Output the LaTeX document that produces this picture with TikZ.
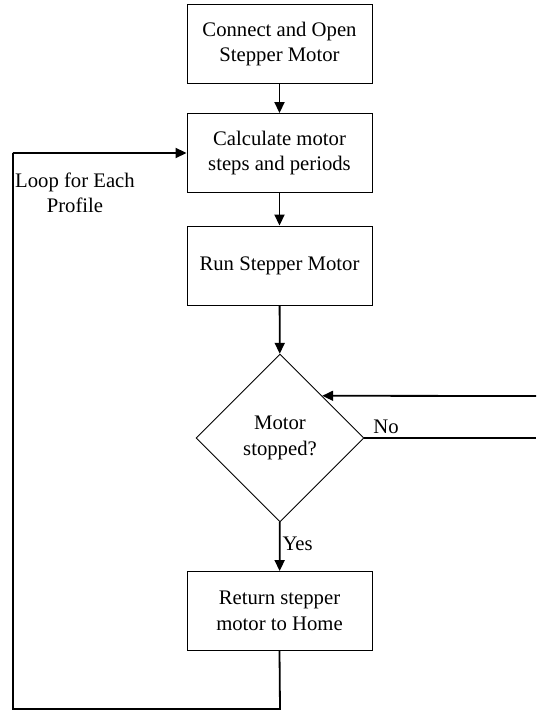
\documentclass[tikz,border=0pt]{standalone}
\usepackage{fontspec}
\setmainfont{Liberation Serif}
\usetikzlibrary{shapes.geometric,arrows.meta}
\begin{document}
\begin{tikzpicture}[x=1pt,y=-1pt,
  txt/.style={font=\fontsize{20.7}{25.5}\selectfont,align=center},
  procbox/.style={txt,draw,line width=0.9pt,minimum width=185,minimum height=79,inner sep=0},
  decision/.style={txt,draw,diamond,line width=0.9pt,minimum width=168,minimum height=168,inner sep=0},
  flow/.style={line width=1.8pt,-{Triangle[length=11pt,width=10pt]}},
  wire/.style={line width=1.8pt}]
  \useasboundingbox (0,0) rectangle (536,711);

  % process steps
  \node[procbox] (open) at (279.5,44) {Connect and Open\\Stepper Motor};
  \node[procbox] (calc) at (279.5,153) {Calculate motor\\steps and periods};
  \node[procbox] (run)  at (279.5,265.5) {Run Stepper Motor};
  \node[decision] (stop) at (280,438) {Motor\\stopped?};
  \node[procbox] (home) at (279.5,611) {Return stepper\\motor to Home};

  % main flow
  \draw[flow] (open) -- (calc);
  \draw[flow] (calc) -- (run);
  \draw[flow] (run) -- (stop);
  \draw[flow] (stop) -- node[txt,right,inner sep=2pt,pos=0.45] (yes) {Yes} (home);

  % profile loop back to the calculation step
  \coordinate (lb) at (280,709);
  \coordinate (ll) at (13,709);
  \coordinate (lt) at (13,153);
  \draw[wire,line join=miter] (home.south) -- (lb) -- (ll) -- (lt);
  \draw[flow] (lt) -- (calc.west);
  \node[txt] (looplbl) at (75,193) {Loop for Each\\Profile};

  % waiting branch at the right
  \coordinate (rin) at (536,396);
  \coordinate (rout) at (536,438);
  \draw[flow] (rin) -- (stop.north east);
  \draw[wire] (stop.east) -- (rout);
  \node[txt,inner sep=0] (no) at (386,427) {No};
\end{tikzpicture}
\end{document}
